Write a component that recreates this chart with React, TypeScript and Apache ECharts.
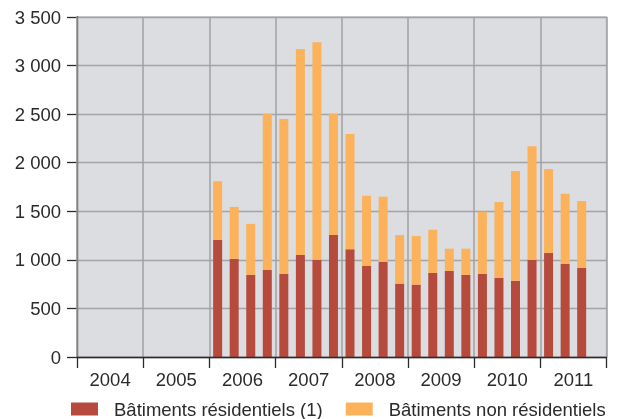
import React, { useEffect, useRef } from "react";
import * as echarts from "echarts";

const years = ["2004", "2005", "2006", "2007", "2008", "2009", "2010", "2011"];
const quarters = years.flatMap((y) => ["T1", "T2", "T3", "T4"].map((q) => `${y} ${q}`));

// 2006 T1 .. 2011 T3
const residentiels = [1205, 1010, 845, 895, 855, 1050, 1000, 1255, 1110, 940, 980, 755, 745, 865, 885, 845, 855, 815, 785, 1000, 1070, 960, 920];
const nonResidentiels = [605, 535, 525, 1610, 1595, 2120, 2240, 1250, 1185, 720, 670, 500, 500, 445, 230, 270, 640, 780, 1130, 1170, 865, 720, 685];

const emptyBefore = 8; // 2004 and 2005 have no data
const emptyAfter = 1; // 2011 T4

const pad = (arr: number[]) => [
  ...Array(emptyBefore).fill(null),
  ...arr,
  ...Array(emptyAfter).fill(null),
];

const fmt = (v: number) => {
  if (v >= 1000) {
    return `${Math.floor(v / 1000)} ${String(v % 1000).padStart(3, "0")}`;
  }
  return String(v);
};

export default function App() {
  const ref = useRef<HTMLDivElement>(null);
  useEffect(() => {
    if (!ref.current) return;
    const chart = echarts.init(ref.current, undefined, { renderer: "svg" });
    const font = "'Liberation Sans', Arial, sans-serif";
    const fs = 18.5;
    chart.setOption({
      animation: false,
      textStyle: { fontFamily: font },
      grid: {
        left: 77,
        top: 17,
        right: 18.5,
        bottom: 62,
        show: true,
        backgroundColor: "#dcdde0",
        borderColor: "#bfc0c2",
        borderWidth: 1.5,
      },
      legend: {
        left: 71,
        top: 399.5,
        padding: 0,
        itemWidth: 27,
        itemHeight: 13,
        itemGap: 23,
        icon: "rect",
        textStyle: {
          fontFamily: font,
          fontSize: fs,
          lineHeight: 18,
          color: "#2b2b2b",
          padding: [0, 0, 0, 11],
        },
        data: ["Bâtiments résidentiels (1)", "Bâtiments non résidentiels"],
      },
      xAxis: [
        {
          type: "category",
          data: years,
          position: "bottom",
          axisLine: { show: true, lineStyle: { color: "#2b2b2b", width: 1.3 } },
          axisTick: { show: true, length: 11, lineStyle: { color: "#2b2b2b", width: 1.3 } },
          axisLabel: { fontSize: fs, color: "#2b2b2b", margin: 13, fontFamily: font },
          splitLine: { show: true, lineStyle: { color: "#a0a1a3", width: 1.5 } },
          z: 3,
        },
        {
          type: "category",
          data: quarters,
          show: false,
          position: "bottom",
        },
      ],
      yAxis: {
        type: "value",
        min: 0,
        max: 3500,
        interval: 500,
        axisLine: { show: true, lineStyle: { color: "#2b2b2b", width: 1.3 } },
        axisTick: { show: true, length: 10, lineStyle: { color: "#2b2b2b", width: 1.3 } },
        axisLabel: {
          fontSize: fs,
          color: "#2b2b2b",
          margin: 16,
          fontFamily: font,
          formatter: (v: number) => fmt(v),
        },
        splitLine: { show: true, lineStyle: { color: "#a3a4a6", width: 1.3 } },
      },
      series: [
        {
          name: "Bâtiments résidentiels (1)",
          type: "bar",
          xAxisIndex: 1,
          stack: "total",
          barWidth: 9,
          itemStyle: { color: "#b54a3d" },
          data: pad(residentiels),
        },
        {
          name: "Bâtiments non résidentiels",
          type: "bar",
          xAxisIndex: 1,
          stack: "total",
          barWidth: 9,
          itemStyle: { color: "#fbb25a" },
          data: pad(nonResidentiels),
        },
      ],
    });
    return () => chart.dispose();
  }, []);
  return (
    <div
      ref={ref}
      style={{ position: "fixed", left: 0, top: 0, width: 625, height: 419 }}
    />
  );
}
